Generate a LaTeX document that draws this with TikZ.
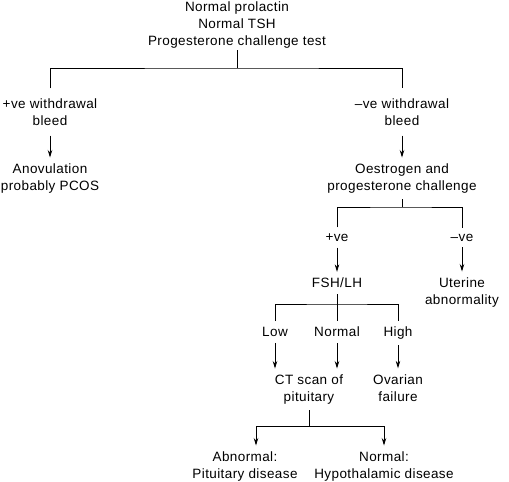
\documentclass[tikz,border=0pt]{standalone}
\usepackage{fontspec}
\setmainfont[LetterSpace=3]{Liberation Sans}
\usetikzlibrary{arrows.meta}
\begin{document}
\begin{tikzpicture}[x=1pt, y=-1pt,
  box/.style={align=center, inner xsep=1pt, inner ysep=6pt, font=\fontsize{13.5}{17}\selectfont},
  link/.style={line width=0.8pt},
  arr/.style={link, -{Stealth[length=7.5pt, width=4.5pt]}}]
\useasboundingbox (0,0) rectangle (509,482);
% ---- first test and withdrawal bleed ----
\node[box, inner ysep=2pt] (test) at (237,25) {Normal prolactin\\Normal TSH\\Progesterone challenge test};
\node[box, inner ysep=10pt] (posbleed) at (50,112) {+ve withdrawal\\bleed};
\node[box, inner ysep=10pt] (negbleed) at (402,112) {--ve withdrawal\\bleed};
\node[box] (anov) at (50,178.5) {Anovulation\\probably PCOS};
\node[box] (oep) at (402,178.5) {Oestrogen and\\progesterone challenge};
\coordinate (j1) at (237,68);
\draw[link] (test) -- (j1);
\draw[link] (posbleed) |- (j1) -| (negbleed);
\draw[arr] (posbleed) -- (anov);
\draw[arr] (negbleed) -- (oep);
% ---- oestrogen and progesterone challenge ----
\node[box] (pos) at (337,237.5) {+ve};
\node[box] (neg) at (462,237.5) {--ve};
\node[box] (fsh) at (337,283) {FSH/LH};
\node[box] (uterine) at (462,292.5) {Uterine\\abnormality};
\coordinate (j2) at (402,207);
\draw[link] (oep) -- (j2);
\draw[link] (pos) |- (j2) -| (neg);
\draw[arr] (pos) -- (fsh);
\draw[arr] (neg) -- (uterine);
% ---- FSH/LH levels ----
\node[box] (low) at (275,332) {Low};
\node[box] (normal) at (337,332) {Normal};
\node[box] (high) at (398,333) {High};
\node[box] (ct) at (309,389.5) {CT scan of\\pituitary};
\node[box] (ovarian) at (398,388) {Ovarian\\failure};
\coordinate (j3) at (337,304);
\draw[link] (fsh) -- (j3);
\draw[link] (low) |- (j3) -| (high);
\draw[link] (normal) -- (j3);
\draw[arr] (low) -- (low |- ct.north);
\draw[arr] (normal) -- (normal |- ct.north);
\draw[arr] (high) -- (ovarian);
% ---- CT scan outcome ----
\node[box] (abn) at (245,466.5) {Abnormal:\\Pituitary disease};
\node[box] (norm) at (384,466.5) {Normal:\\Hypothalamic disease};
\coordinate (j4) at (309,426);
\draw[link] (ct) -- (j4);
\draw[arr] (j4) -| ([xshift=11pt]abn.north);
\draw[arr] (j4) -| (norm);
\end{tikzpicture}
\end{document}
